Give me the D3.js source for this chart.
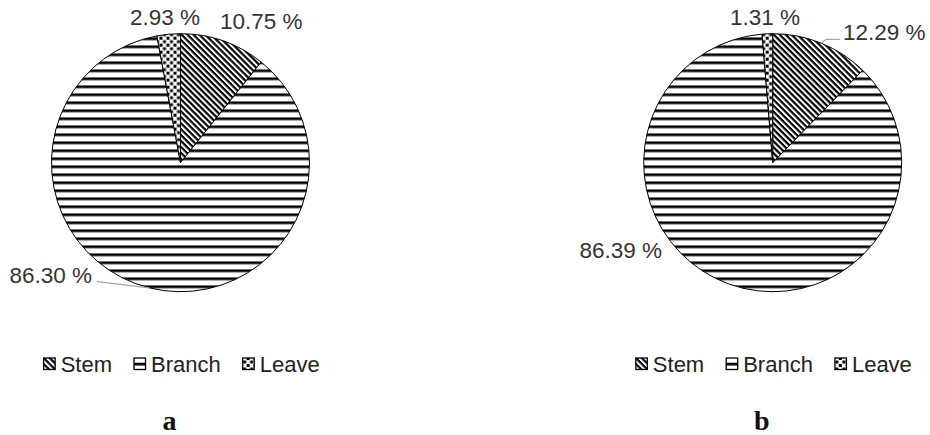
<!DOCTYPE html>
<html>
<head>
<meta charset="utf-8">
<script src="https://cdn.jsdelivr.net/npm/d3@7/dist/d3.min.js"></script>
<style>
  html, body { margin: 0; padding: 0; background: #fff; }
  svg { display: block; }
</style>
</head>
<body>
<svg id="chart" width="930" height="435"></svg>
<script>
// Biomass share by plant organ, two sites
const categories = ["Stem", "Branch", "Leave"];
const valuesA = [10.75, 86.30, 2.93];
const valuesB = [12.29, 86.39, 1.31];
const panelNames = ["a", "b"];

const W = 930, H = 435;
const R = 129;
const fmt = v => d3.format(".2f")(v) + " %";

// Placement of each panel and its value labels
const layout = [
  {
    cx: 180.5, cy: 162.7,
    labels: [
      { x: 220, y: 29, anchor: "start" },
      { x: 92, y: 283, anchor: "end", leader: [[97, 281.7]] },
      { x: 130, y: 25, anchor: "start" }
    ]
  },
  {
    cx: 772.7, cy: 162.7,
    labels: [
      { x: 843, y: 40, anchor: "start", leader: [[840, 39.3], [826, 39.3]] },
      { x: 662, y: 258, anchor: "end" },
      { x: 730, y: 25, anchor: "start" }
    ]
  }
];
const seriesList = [valuesA, valuesB];

const svg = d3.select("#chart");
const defs = svg.append("defs");

// Stem: downward diagonal hatch
const pStem = defs.append("pattern")
  .attr("id", "pat-stem").attr("patternUnits", "userSpaceOnUse")
  .attr("width", 4.2).attr("height", 4.2)
  .attr("patternTransform", "rotate(45)");
pStem.append("rect").attr("width", 4.2).attr("height", 4.2).attr("fill", "#fff");
pStem.append("rect").attr("width", 4.2).attr("height", 2.2).attr("fill", "#000");

// Branch: horizontal stripes
const pBranch = defs.append("pattern")
  .attr("id", "pat-branch").attr("patternUnits", "userSpaceOnUse")
  .attr("y", 2.75).attr("width", 8).attr("height", 8);
pBranch.append("rect").attr("width", 8).attr("height", 8).attr("fill", "#fff");
pBranch.append("rect").attr("width", 8).attr("height", 2.7).attr("fill", "#000");

// Leave: scattered square dots
const pLeave = defs.append("pattern")
  .attr("id", "pat-leave").attr("patternUnits", "userSpaceOnUse")
  .attr("width", 7).attr("height", 7);
pLeave.append("rect").attr("width", 7).attr("height", 7).attr("fill", "#fff");
pLeave.append("rect").attr("x", 0).attr("y", 0).attr("width", 3).attr("height", 3).attr("fill", "#000");
pLeave.append("rect").attr("x", 3.5).attr("y", 3.5).attr("width", 3).attr("height", 3).attr("fill", "#000");

const fills = d3.scaleOrdinal()
  .domain(categories)
  .range(["url(#pat-stem)", "url(#pat-branch)", "url(#pat-leave)"]);

const pie = d3.pie().sort(null).value(d => d.value);
const arc = d3.arc().innerRadius(0).outerRadius(R);
const edge = d3.arc().innerRadius(R).outerRadius(R);

const labelFont = "'Liberation Sans', Arial, sans-serif";

seriesList.forEach((vals, i) => {
  const L = layout[i];
  const data = categories.map((c, k) => ({ cat: c, value: vals[k] }));
  const arcs = pie(data);
  const g = svg.append("g").attr("transform", `translate(${L.cx},${L.cy})`);

  g.selectAll("path.slice")
    .data(arcs)
    .join("path")
    .attr("class", "slice")
    .attr("d", arc)
    .attr("fill", d => fills(d.data.cat))
    .attr("stroke", "#000")
    .attr("stroke-width", 1)
    .attr("stroke-linejoin", "round");

  // leader lines from slice edge to label
  arcs.forEach((a, k) => {
    const lab = L.labels[k];
    if (!lab.leader) return;
    const c = edge.centroid(a);
    const pts = [[c[0] + L.cx, c[1] + L.cy]];
    lab.leader.slice().reverse().forEach(p => pts.push(p));
    svg.append("path")
      .attr("d", d3.line()(pts))
      .attr("fill", "none")
      .attr("stroke", "#a6a6a6")
      .attr("stroke-width", 1.2);
  });

  // value labels
  arcs.forEach((a, k) => {
    const lab = L.labels[k];
    svg.append("text")
      .attr("x", lab.x).attr("y", lab.y)
      .attr("text-anchor", lab.anchor)
      .attr("font-family", labelFont)
      .attr("font-size", 22.5)
      .attr("fill", "#333")
      .text(fmt(a.data.value));
  });

  // legend
  const lg = svg.append("g");
  let x = 0;
  const iconSize = 11.5, gapIcon = 5.5, gapItem = 22, baseY = 371.5;
  const items = categories.map(c => {
    const it = lg.append("g");
    it.append("rect")
      .attr("x", x).attr("y", baseY - 13.5)
      .attr("width", iconSize).attr("height", iconSize)
      .attr("fill", fills(c))
      .attr("stroke", "#000").attr("stroke-width", 1.3);
    const t = it.append("text")
      .attr("x", x + iconSize + gapIcon).attr("y", baseY)
      .attr("font-family", labelFont)
      .attr("font-size", 22)
      .attr("fill", "#222")
      .text(c);
    const start = x;
    x += iconSize + gapIcon + t.node().getComputedTextLength() + gapItem;
    return start;
  });
  // place so the Branch marker sits slightly left of the pie centre
  lg.attr("transform", `translate(${L.cx - 46.5 - items[1]},0)`);

  // panel letter
  svg.append("text")
    .attr("x", L.cx - 11).attr("y", 430)
    .attr("text-anchor", "middle")
    .attr("font-family", "'Liberation Serif', 'Times New Roman', serif")
    .attr("font-weight", "bold")
    .attr("font-size", 28)
    .attr("fill", "#111")
    .text(panelNames[i]);
});
</script>
</body>
</html>
